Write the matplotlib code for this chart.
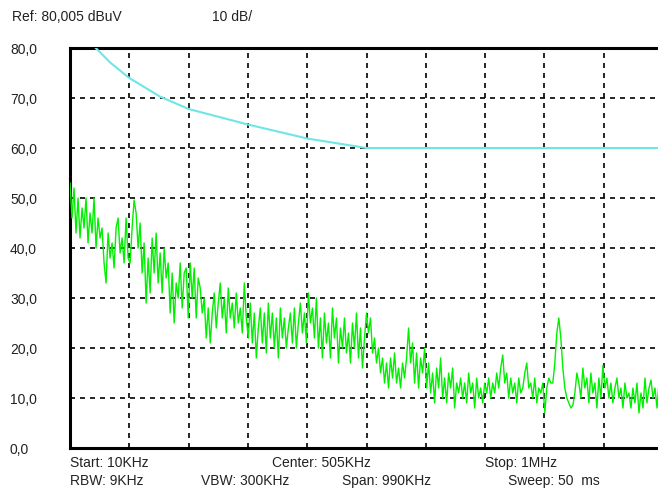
import numpy as np
import matplotlib
matplotlib.use("Agg")
import matplotlib.pyplot as plt

plt.rcParams["font.family"] = ["Liberation Sans", "DejaVu Sans"]

# scale / header
ref_text = "Ref: 80,005 dBuV"
div_text = "10 dB/"
y_ticks = [0, 10, 20, 30, 40, 50, 60, 70, 80]
y_labels = ["0,0", "10,0", "20,0", "30,0", "40,0", "50,0", "60,0", "70,0", "80,0"]
start_khz = 10
stop_khz = 1000

# limit line (kHz, dBuV)
limit_freq = [53, 78, 109, 160, 208, 307, 406, 505, 1000]
limit_level = [80, 77, 74, 70.3, 67.8, 64.7, 61.9, 60, 60]

trace_level = [
    53, 46, 52, 43, 50, 42, 48, 44, 50, 41, 47, 43, 50, 40, 46, 42, 44, 37, 33, 43,
    38, 41, 36, 44, 46, 39, 42, 37, 46, 38,
    37, 44, 49.6, 47, 40, 45, 35, 41, 29, 38, 31, 42, 35, 43, 33, 39, 31, 40, 34, 37,
    27, 35, 25, 33, 30, 37, 28, 35, 36, 26,
    37, 30, 36, 26, 34, 32, 27, 30, 22, 28, 21, 27, 31, 24, 29, 33, 26, 30, 23, 32,
    26, 29, 24, 31, 25, 28, 23, 33, 26, 22,
    29, 21, 27, 18, 24, 28, 21, 27, 19, 29, 22, 27, 20, 26, 18, 28, 22, 26, 20, 24,
    27, 21, 28, 20, 25, 29, 23, 27, 21, 31,
    25, 28, 22, 30, 20, 26, 18, 27, 21, 25, 18, 28, 22, 26, 17, 24, 20, 26, 19, 23,
    17, 25, 20, 27, 18, 24, 16, 22, 27,
    23, 26, 19, 22, 17, 20, 15, 18, 13, 17, 12, 18, 14, 19, 13, 16, 12, 17, 14, 18,
    24, 17, 21, 13, 19, 12, 18, 15, 20, 12,
    17, 11, 15, 9, 16, 12, 18, 10, 14, 9, 15, 12, 16, 8, 13, 11, 14, 10, 13, 9,
    15, 11, 13, 8, 14, 10, 12, 9, 13, 11,
    14, 10, 13, 11, 15, 12, 16, 18.6, 13, 15, 10, 14, 11, 13, 9, 14, 11, 12, 15, 17,
    12, 13, 10, 14, 9, 12, 11, 13, 7,
    12, 14, 13, 13, 17, 23, 26, 22, 16, 12, 10, 9, 8, 8.5, 11, 15, 13, 10, 16, 12,
    14, 9, 15, 11, 13, 8, 14, 10, 16.5, 12,
    14, 10, 13, 9, 12, 14, 10, 12, 8, 13, 10, 11, 8, 12, 9, 13, 7, 11, 8, 14,
    9, 12, 13.6, 10, 12, 8, 13, 11, 10,
]

# footer
footer_row1 = [("Start: 10KHz", 70), ("Center: 505KHz", 272), ("Stop: 1MHz", 485)]
footer_row2 = [("RBW: 9KHz", 70), ("VBW: 300KHz", 201), ("Span: 990KHz", 342), ("Sweep: 50  ms", 508)]

W, H = 658, 488
FS = 10
fig = plt.figure(figsize=(W / 100, H / 100), dpi=100)
fig.patch.set_facecolor("white")

# plot area: x 70..663 px (runs off right edge), y 48..448 px
ax = fig.add_axes([70 / W, (H - 448) / H, 593 / W, 400 / H])
ax.set_xlim(start_khz, stop_khz)
ax.set_ylim(0, 80)

trace_freq = np.linspace(start_khz, stop_khz, len(trace_level))
ax.plot(limit_freq, limit_level, color="#6fe6e6", lw=1.5, zorder=3)
ax.plot(trace_freq, trace_level, color="#00f000", lw=1.0, zorder=4)

ax.set_xticks(np.linspace(start_khz, stop_khz, 11))
ax.set_yticks(y_ticks)
ax.set_yticklabels(y_labels)
ax.tick_params(axis="x", length=0, labelbottom=False)
ax.tick_params(axis="y", length=0, pad=60 * 72 / 100, labelsize=FS, labelcolor="#222222")
for lbl in ax.get_yticklabels():
    lbl.set_horizontalalignment("left")

ax.grid(True, color="black", linestyle=(0, (3, 3)), lw=1.2)
for s in ax.spines.values():
    s.set_color("black")
    s.set_linewidth(2.2)

fig.text(12 / W, 1 - 17 / H, ref_text, fontsize=FS, va="center", ha="left", color="#222222")
fig.text(212 / W, 1 - 17 / H, div_text, fontsize=FS, va="center", ha="left", color="#222222")
for txt, px in footer_row1:
    fig.text(px / W, 1 - 463 / H, txt, fontsize=FS, va="center", ha="left", color="#222222")
for txt, px in footer_row2:
    fig.text(px / W, 1 - 481 / H, txt, fontsize=FS, va="center", ha="left", color="#222222")

fig.savefig("out.png", dpi=100)
